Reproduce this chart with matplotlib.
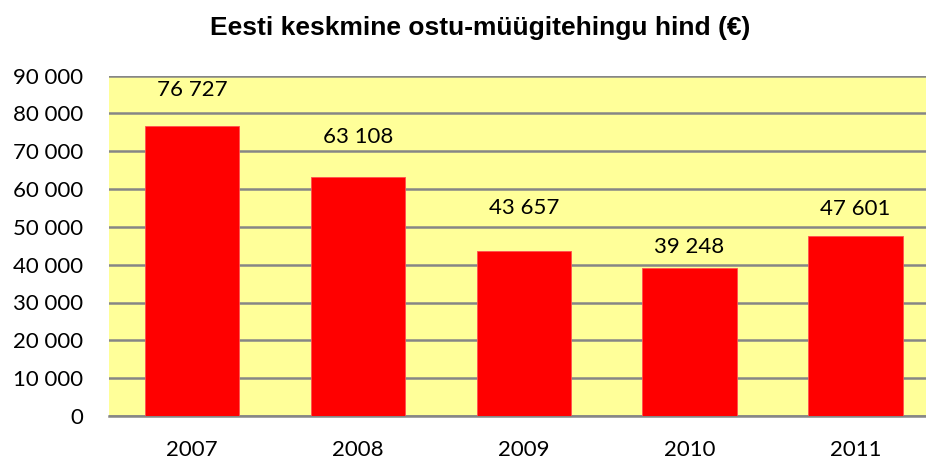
import matplotlib
matplotlib.use("Agg")
import matplotlib.pyplot as plt
from matplotlib.ticker import FuncFormatter

years = ["2007", "2008", "2009", "2010", "2011"]
prices = [76727, 63108, 43657, 39248, 47601]
y_ticks = [0, 10000, 20000, 30000, 40000, 50000, 60000, 70000, 80000, 90000]

# label offsets above bar tops (pixels) - manual layout as in reference
label_offsets = [36, 40, 43, 21, 27]

W, H = 926, 461
fig = plt.figure(figsize=(W / 100, H / 100), dpi=100)
left, right, top, bottom = 109.3, 938.3, 75.5, 416.0
ax = fig.add_axes([left / W, 1 - bottom / H, (right - left) / W, (bottom - top) / H])
ax.set_facecolor("#FFFF99")

x = list(range(len(years)))
ax.bar(x, prices, width=0.57, color="#FF0000", edgecolor="#FF5050", linewidth=0.6, zorder=3)
ax.set_xlim(-0.5, len(years) - 0.5)
ax.set_ylim(0, 90000)
ax.set_yticks(y_ticks)
ax.yaxis.set_major_formatter(FuncFormatter(lambda v, p: f"{int(v):,}".replace(",", " ")))
ax.set_xticks(x)
ax.set_xticklabels(years)

ax.grid(axis="y", color="#868686", linewidth=1.8, zorder=1)
for s in ["left", "right", "top"]:
    ax.spines[s].set_visible(False)
ax.spines["bottom"].set_color("#868686")
ax.spines["bottom"].set_linewidth(1.8)
ax.tick_params(axis="both", length=0, labelsize=16, labelcolor="black")
ax.tick_params(axis="y", pad=19)
ax.tick_params(axis="x", pad=17)
for lab in ax.get_xticklabels() + ax.get_yticklabels():
    lab.set_fontfamily("Lato")

px_per_unit = (bottom - top) / 90000
for xi, v, off in zip(x, prices, label_offsets):
    ax.text(xi, v + off / px_per_unit, f"{v:,}".replace(",", " "), ha="center", va="center",
            fontsize=16, fontfamily="Lato", color="black", zorder=4)

fig.text(480 / W, 1 - 28 / H, "Eesti keskmine ostu-müügitehingu hind (€)", ha="center", va="center",
         fontsize=19, fontweight="bold", fontfamily="Liberation Sans")

fig.savefig("out.png", dpi=100, facecolor="white")
